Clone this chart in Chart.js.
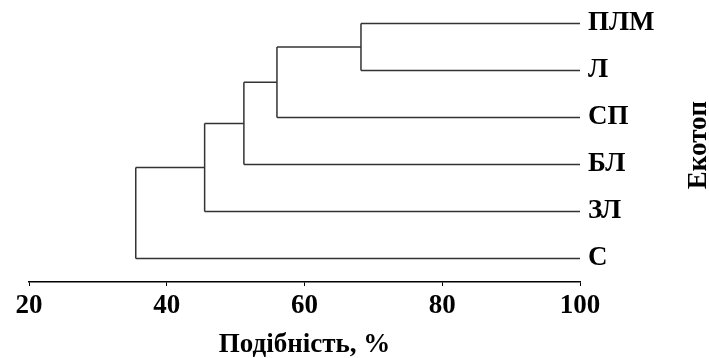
<!DOCTYPE html>
<html>
<head>
<meta charset="utf-8">
<script src="https://cdn.jsdelivr.net/npm/chart.js@4"></script>
<style>
  html, body { margin: 0; padding: 0; background: #fff; overflow: hidden; }
  #wrap { width: 709px; height: 361px; }
</style>
</head>
<body>
<div id="wrap"><canvas id="dendro"></canvas></div>
<script>
// leaves, top to bottom
const leaves = ["ПЛМ", "Л", "СП", "БЛ", "ЗЛ", "С"];
// similarity (%) at which each next leaf joins the growing cluster
const joinLevels = [68.2, 56.0, 51.2, 45.5, 35.5];
const xTicks = [20, 40, 60, 80, 100];
const xTitle = "Подібність, %";
const yTitle = "Екотоп";

const ctx = document.getElementById("dendro");
const serif = "'Liberation Serif', 'Times New Roman', serif";
const lineColor = "#333";

// leaf y positions: top leaf highest
const leafY = leaves.map((name, i) => leaves.length - i);

const segments = [];
// first join: leaf 0 and leaf 1
let clusterY = (leafY[0] + leafY[1]) / 2;
let clusterX = joinLevels[0];
segments.push([{ x: joinLevels[0], y: leafY[0] }, { x: 100, y: leafY[0] }]);
segments.push([{ x: joinLevels[0], y: leafY[1] }, { x: 100, y: leafY[1] }]);
segments.push([{ x: joinLevels[0], y: leafY[0] }, { x: joinLevels[0], y: leafY[1] }]);
for (let i = 2; i < leaves.length; i++) {
  const lvl = joinLevels[i - 1];
  // leaf branch
  segments.push([{ x: lvl, y: leafY[i] }, { x: 100, y: leafY[i] }]);
  // cluster branch
  segments.push([{ x: lvl, y: clusterY }, { x: clusterX, y: clusterY }]);
  // vertical link
  segments.push([{ x: lvl, y: clusterY }, { x: lvl, y: leafY[i] }]);
  clusterY = (clusterY + leafY[i]) / 2;
  clusterX = lvl;
}

// right-hand title, reading bottom to top
const rightTitle = {
  id: "rightTitle",
  afterDraw(chart) {
    const c = chart.ctx;
    const area = chart.chartArea;
    c.save();
    c.translate(706, (area.top + area.bottom) / 2 + 4);
    c.rotate(-Math.PI / 2);
    c.font = "bold 27px " + serif;
    c.fillStyle = "#000";
    c.textAlign = "center";
    c.textBaseline = "alphabetic";
    c.fillText(yTitle, 0, 0);
    c.restore();
  },
};

new Chart(ctx, {
  type: "scatter",
  data: {
    datasets: segments.map((seg) => ({
      data: seg,
      showLine: true,
      borderColor: lineColor,
      borderWidth: 1.5,
      pointRadius: 0,
      fill: false,
    })),
  },
  options: {
    responsive: true,
    maintainAspectRatio: false,
    animation: false,
    layout: { padding: { left: 29, right: 0, top: 0, bottom: 0 } },
    plugins: {
      legend: { display: false },
      tooltip: { enabled: false },
    },
    scales: {
      x: {
        type: "linear",
        min: 20,
        max: 100,
        afterBuildTicks: (axis) => {
          axis.ticks = xTicks.map((v) => ({ value: v }));
        },
        afterFit: (axis) => {
          axis.height = 79;
          axis.paddingLeft = 0;
          axis.paddingRight = 0;
        },
        grid: { display: true, drawOnChartArea: false, drawTicks: true, tickLength: 4, color: "#000" },
        border: { display: true, color: "#000", width: 1.4 },
        ticks: {
          color: "#000",
          padding: 4,
          maxRotation: 0,
          font: { family: serif, size: 27, weight: "bold" },
        },
        title: {
          display: true,
          text: xTitle,
          color: "#000",
          padding: { top: 0, bottom: 0 },
          font: { family: serif, size: 27, weight: "bold" },
        },
      },
      y: {
        type: "linear",
        position: "right",
        min: 0.5,
        max: 6.5,
        afterBuildTicks: (axis) => {
          axis.ticks = leafY.map((v) => ({ value: v }));
        },
        afterFit: (axis) => {
          axis.width = 129;
          axis.paddingTop = 0;
          axis.paddingBottom = 0;
        },
        grid: { display: false, drawTicks: false },
        border: { display: false },
        ticks: {
          color: "#000",
          padding: 8,
          font: { family: serif, size: 27, weight: "bold" },
          callback: (v) => leaves[leaves.length - v],
        },
      },
    },
  },
  plugins: [rightTitle],
});
</script>
</body>
</html>
